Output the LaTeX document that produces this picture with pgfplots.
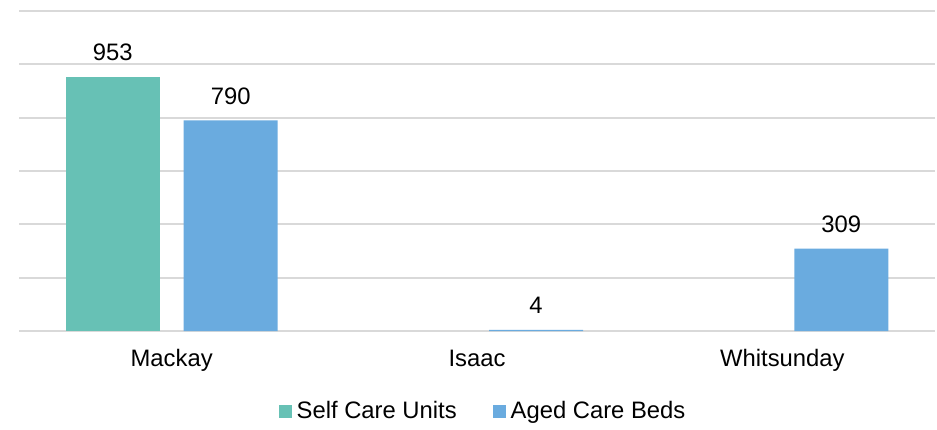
\documentclass[border=0pt]{standalone}
\usepackage{fontspec}
\setmainfont{Liberation Sans}
\usepackage{pgfplots}
\pgfplotsset{compat=1.18}

\definecolor{selfcare}{HTML}{67C1B5}
\definecolor{agedcare}{HTML}{6AABDF}
\definecolor{gridgray}{HTML}{D9D9D9}

\begin{document}
\begin{tikzpicture}
\begin{axis}[
    scale only axis,
    width=458pt,
    height=160pt,
    xmin=-0.5, xmax=2.5,
    ymin=0, ymax=1200,
    ytick={0,200,...,1200},
    yticklabels={},
    xtick={0,1,2},
    xticklabels={Mackay, Isaac, Whitsunday},
    major tick length=0pt,
    axis line style={draw=none},
    ymajorgrids,
    grid style={gridgray, line width=0.9pt},
    ybar,
    bar width=47pt,
    font=\fontsize{11.9}{13}\selectfont,
    xticklabel style={anchor=base, yshift=-17.5pt},
    nodes near coords,
    nodes near coords style={anchor=base, yshift=8pt, text=black,
        /pgf/number format/assume math mode=true},
    clip=false,
    legend columns=2,
    legend style={
        at={(0.5,0)}, anchor=center, yshift=-40pt, xshift=3.5pt,
        draw=none, fill=none,
        /tikz/every even column/.append style={column sep=16pt},
        /tikz/every odd column/.append style={column sep=0.5pt},
        font=\fontsize{11.9}{13}\selectfont,
    },
    legend image code/.code={\fill[#1] (0pt,-3.25pt) rectangle (6.5pt,3.25pt);},
]
\addplot[fill=selfcare, draw=none, bar shift=-29.5pt] coordinates {(0,953)};
\addplot[fill=agedcare, draw=none, bar shift=29.5pt] coordinates {(0,790) (1,4) (2,309)};
\legend{Self Care Units, Aged Care Beds}
\coordinate (bl) at (rel axis cs:0,0);
\coordinate (tr) at (rel axis cs:1,1);
\end{axis}
\path[use as bounding box] ([xshift=-9.5pt,yshift=-45.5pt]bl) rectangle ([xshift=1pt,yshift=5.5pt]tr);
\end{tikzpicture}
\end{document}
